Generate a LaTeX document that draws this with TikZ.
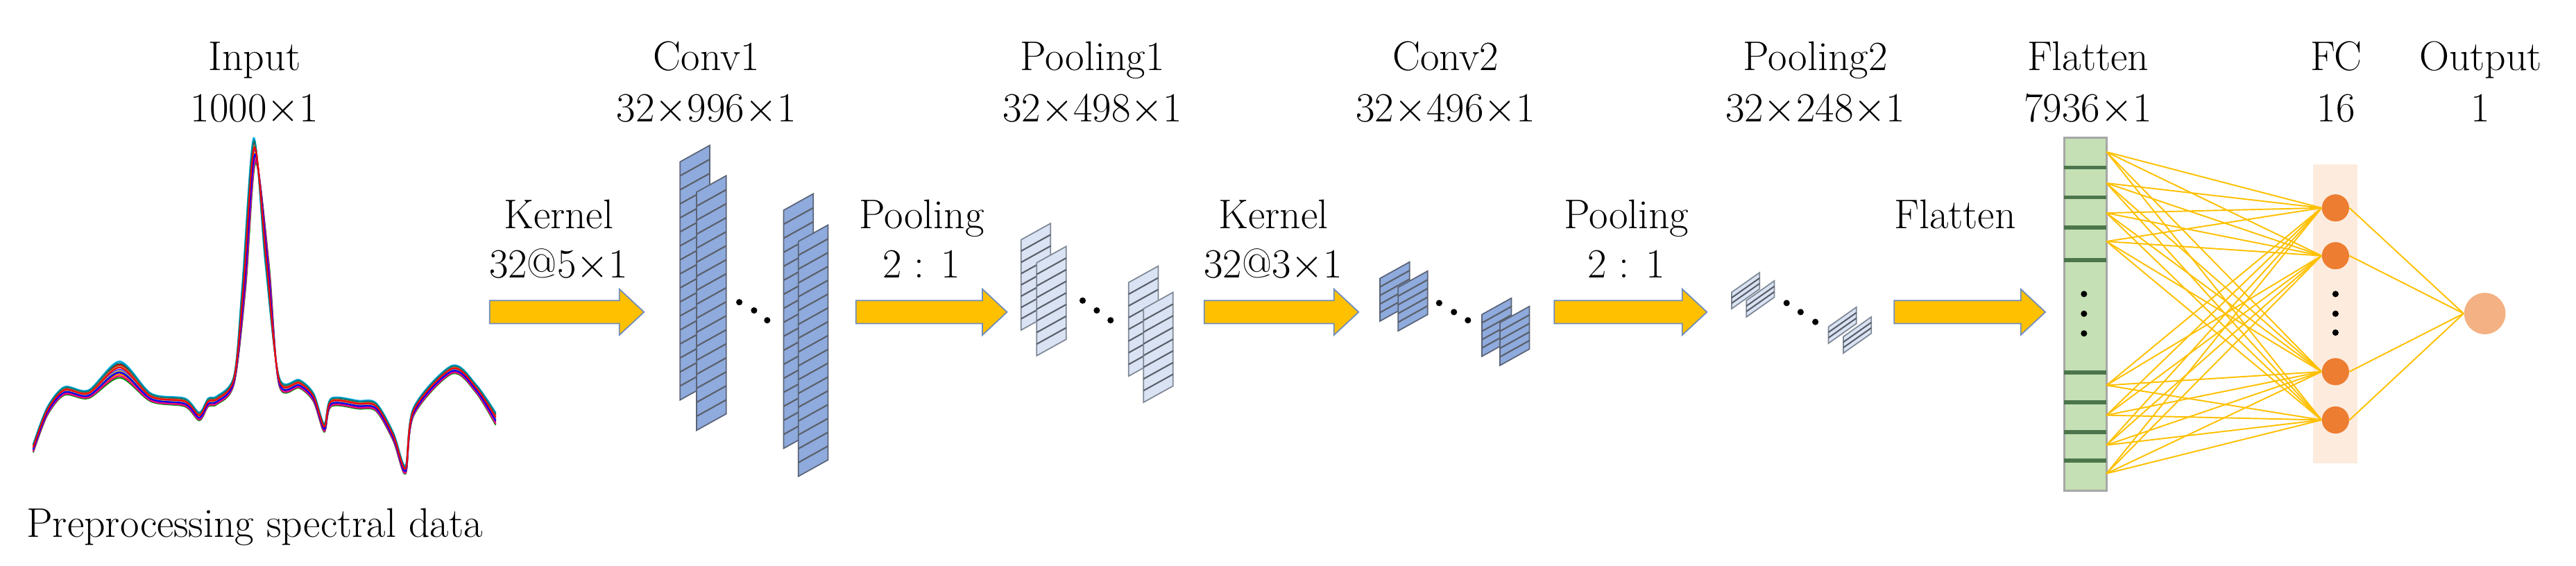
\documentclass[tikz,border=0pt]{standalone}
\begin{document}
\begin{tikzpicture}[x=0.02368cm,y=-0.02368cm,
  lab/.style={font=\rmfamily\fontsize{17}{20}\selectfont,inner sep=0pt,anchor=base},
  yarrow/.style={fill=yellowA,draw=blueA,line width=0.5pt},
  conv/.style={fill=convF,draw=convD,line width=0.5pt},
  pool/.style={fill=poolF,draw=poolD,line width=0.5pt},
  stripe/.style={draw=stripeC,line width=0.6pt},
  dot/.style={circle,fill=black,inner sep=0pt,minimum size=2.6pt},
  conn/.style={draw=yellowA,line width=0.55pt},
  fcn/.style={circle,fill=orangeA,inner sep=0pt,minimum size=16.4*0.02368cm}]
\definecolor{yellowA}{HTML}{FFC000}
\definecolor{blueA}{HTML}{6F8CBF}
\definecolor{convF}{HTML}{8FAADC}
\definecolor{convD}{HTML}{5A6478}
\definecolor{poolF}{HTML}{DAE3F3}
\definecolor{poolD}{HTML}{7F8896}
\definecolor{stripeC}{HTML}{5A5F6A}
\definecolor{greenA}{HTML}{C5E0B4}
\definecolor{orangeA}{HTML}{ED7D31}
\definecolor{orangeB}{HTML}{F4B183}
\definecolor{orangeC}{HTML}{FDEBDD}
\useasboundingbox (0,0) rectangle (1568,344.2);
\newcommand\blkarrow[3]{\draw[yarrow] (#1,#3-7) -- (#2-15,#3-7) -- (#2-15,#3-14) -- (#2,#3) -- (#2-15,#3+14) -- (#2-15,#3+7) -- (#1,#3+7) -- cycle;}
\newcommand\fmap[7]{%
  \draw[#6] (#1,#2) -- (#1+#3,#2-#4) -- (#1+#3,#2-#4+#5) -- (#1,#2+#5) -- cycle;
  \foreach \k in {1,...,\numexpr#7-1\relax}{\draw[stripe] (#1,#2+\k*#5/#7) -- (#1+#3,#2-#4+\k*#5/#7);}}
\foreach \x/\a/\b/\n in {155/Input/1000$\times$1/in,430/Conv1/32$\times$996$\times$1/c1,665/Pooling1/32$\times$498$\times$1/p1,880/Conv2/32$\times$496$\times$1/c2,1105/Pooling2/32$\times$248$\times$1/p2,1271/Flatten/7936$\times$1/fl,1422/FC/16/fc,1510/Output/1/op}{
  \node[lab] (t\n) at (\x,43) {\a};
  \node[lab] (s\n) at (\x,74) {\b};}
\node[lab] (prep) at (155,327) {Preprocessing spectral data};
\begin{scope}[xshift=-13.5*0.02368cm,xscale=1.087]
\foreach \c/\d in {blue!70/0,orange/1.5,red!70!black/-1.5,green!60!black/2.5,cyan/-2.5,violet/1,brown/-1,magenta/2,teal/-2,yellow!80!black/0.5,blue/0.8,red/-0.6}{
\draw[\c,line width=0.6pt] plot[smooth,tension=0.5] coordinates{(31,273+\d) (38.8,250.6+\d) (48.5,238+\d) (62,240+\d) (79.5,225+\d*2) (97,242+\d) (116,245+\d) (124,253.5+\d) (129,245+\d) (134,243.6+\d) (143.5,231+\d) (149+\d*0.4,174.6) (155+\d*0.2,91.5+\d*3) (162+\d*0.4,160.5) (168.7,232+\d) (180,233.7+\d) (188,242+\d) (194,260.5+\d) (197.8,245+\d) (213,246.4+\d) (223,247.8+\d) (232.7,266+\d) (239.5,286+\d) (244,250.6+\d) (265.6,225+\d) (279,236.6+\d) (290,255+\d*1.5)};}
\end{scope}
\blkarrow{298}{392}{190}
\blkarrow{521}{613}{190}
\blkarrow{733}{827}{190}
\blkarrow{946}{1039}{190}
\blkarrow{1153}{1245}{190}
\foreach \x/\a/\b/\n in {340/Kernel/32@5$\times$1/k1,561/Pooling/2 : 1/q1,775/Kernel/32@3$\times$1/k2,990/Pooling/2 : 1/q2}{
  \node[lab] (a\n) at (\x,139) {\a};
  \node[lab] (b\n) at (\x,169) {\b};}
\node[lab] (afl) at (1190,139) {Flatten};
\fmap{414}{98.5}{18}{10}{145}{conv}{17}
\fmap{424}{117}{18}{10}{145}{conv}{17}
\fmap{477}{128}{18}{10}{145}{conv}{17}
\fmap{486}{147}{18}{10}{143}{conv}{17}
\node[dot] (d11) at (450,184) {}; \node[dot] (d12) at (459,189) {}; \node[dot] (d13) at (467,195) {};
\fmap{621.5}{146}{18}{10}{55}{pool}{8}
\fmap{631}{160}{18}{10}{56.6}{pool}{8}
\fmap{687}{172}{18}{10}{57}{pool}{8}
\fmap{696}{188}{18}{10}{57}{pool}{8}
\node[dot] (d21) at (659,183) {}; \node[dot] (d22) at (667.6,189) {}; \node[dot] (d23) at (676,195) {};
\fmap{840}{169.5}{18}{10}{26}{conv}{5}
\fmap{851}{175}{18}{10}{26.5}{conv}{5}
\fmap{902}{191.5}{18}{10}{25.5}{conv}{5}
\fmap{913}{196.5}{18}{10}{26}{conv}{5}
\node[dot] (d31) at (876,184.5) {}; \node[dot] (d32) at (885,190) {}; \node[dot] (d33) at (893.5,195) {};
\fmap{1054}{178}{17}{12}{10}{pool}{3}
\fmap{1063}{183}{17}{12}{10}{pool}{3}
\fmap{1113}{199}{17}{12}{10}{pool}{3}
\fmap{1122}{205}{17}{12}{10}{pool}{3}
\node[dot] (d41) at (1087.5,184.5) {}; \node[dot] (d42) at (1096,190) {}; \node[dot] (d43) at (1105,196) {};
\draw[fill=greenA,draw=gray!70,line width=0.8pt] (1256.4,83.8) rectangle (1282.2,298.7);
\foreach \y in {102,120.2,138.4,158.3,226.8,245,263.2,280.5}{\draw[line width=1.6pt,draw=black!60!green!40!gray] (1256.4,\y) -- (1282.2,\y);}
\node[dot] (fd1) at (1268.5,179) {}; \node[dot] (fd2) at (1268.5,191) {}; \node[dot] (fd3) at (1268.5,203) {};
\fill[orangeC] (1408,100.3) rectangle (1435,282.2);
\foreach \i/\y in {1/126.6,2/155.7,3/226.3,4/255.7}{\node[fcn] (h\i) at (1421.6,\y) {};}
\node[dot] (hd1) at (1421.6,179) {}; \node[dot] (hd2) at (1421.6,191) {}; \node[dot] (hd3) at (1421.6,202.5) {};
\node[circle,fill=orangeB,inner sep=0pt,minimum size=25.2*0.02368cm] (out) at (1512.5,190.9) {};
\foreach \i/\y in {1/92.5,2/111.5,3/129.7,4/147,5/234.6,6/252.8,7/271,8/288.3}{\coordinate (f\i) at (1282.2,\y);}
\foreach \i in {1,...,8}{\foreach \j in {1,...,4}{\draw[conn] (f\i) -- (h\j.west);}}
\foreach \j in {1,...,4}{\draw[conn] (h\j.east) -- (out.west);}
\foreach \i/\y in {1/126.6,2/155.7,3/226.3,4/255.7}{\node[fcn] at (1421.6,\y) {};}
\end{tikzpicture}
\end{document}
